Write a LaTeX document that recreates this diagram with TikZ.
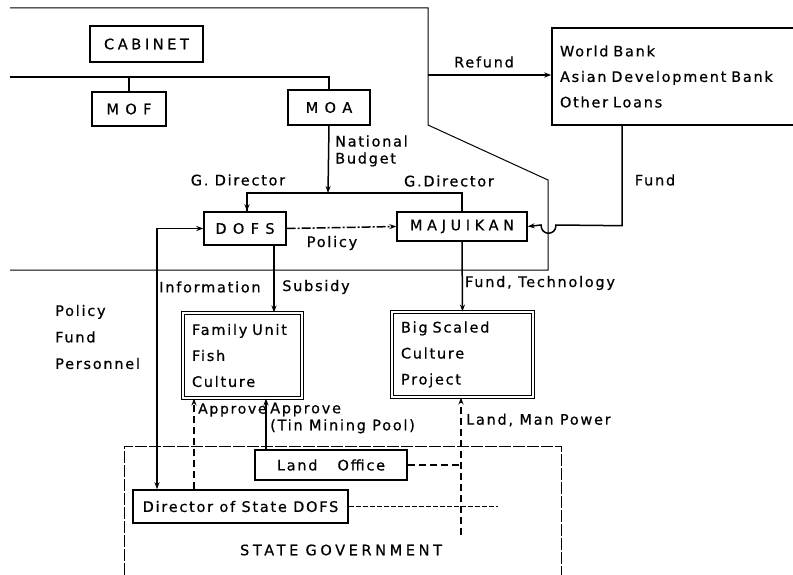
\documentclass[tikz,border=0pt]{standalone}
\usepackage{fontspec}
\setmainfont{DejaVu Sans}[LetterSpace=12,FakeBold=0.6]
\usetikzlibrary{arrows.meta,positioning}

\begin{document}
\begin{tikzpicture}[x=1pt,y=-1pt,>={Stealth[length=7pt,width=5pt]},
    font=\fontsize{14.5}{16}\selectfont,
    unit/.style={draw,line width=1.4pt,inner sep=0pt,align=center},
    project/.style={draw,double,double distance=1.6pt,line width=1pt,inner xsep=8pt,
      align=left,font=\fontsize{14.5}{26}\selectfont},
    region/.style={line width=1pt},
    link/.style={line width=1.5pt},
    dashlink/.style={link,dash pattern=on 7pt off 4pt},
    lbl/.style={inner sep=0pt,align=left},
    wide/.style={font=\fontsize{14.5}{16}\selectfont\addfontfeature{LetterSpace=25}}]
  \useasboundingbox (0,0) rectangle (793,575);
  % areas
  \draw[region] (10,8) -- (428,8) -- (428,125) -- (548,180) -- (548,270) -- (10,270);
  \draw[region,dash pattern=on 12pt off 2pt] (124,575) -- (124,446) -- (561,446) -- (561,575);
  \node[lbl,wide] (stategov) at (341,550) {STATE\enspace GOVERNMENT};

  % boxes
  \node[unit,wide,minimum width=113,minimum height=36] (cabinet) at (146.5,44) {CABINET};
  \node[unit,minimum width=74,minimum height=34] (mof) at (129,109) {M O F};
  \node[unit,minimum width=82,minimum height=35] (moa) at (329,107.5) {M O A};
  \node[unit,minimum width=248,minimum height=97,text width=232,inner xsep=8pt,align=left,
    font=\fontsize{14.5}{25.5}\selectfont] (bank) at (676,76.5)
    {World Bank\\Asian Development Bank\\Other Loans};
  \node[unit,minimum width=82,minimum height=33] (dofs) at (245,228.5) {D O F S};
  \node[unit,minimum width=130,minimum height=29,
    font=\fontsize{14.5}{16}\selectfont\addfontfeature{LetterSpace=32}] (maj) at (462,226.5) {MAJUIKAN};
  \node[project,minimum width=119,minimum height=85,text width=101] (family) at (242.5,355.5)
    {Family Unit\\Fish\\Culture};
  \node[project,minimum width=141,minimum height=85,text width=123] (big) at (462.5,354.5)
    {Big Scaled\\Culture\\Project};
  \node[unit,minimum width=152,minimum height=30] (land) at (331,465) {Land\hspace{20pt}Office};
  \node[unit,minimum width=215,minimum height=33] (director) at (240.5,506.5)
    {Director of State DOFS};

  % cabinet lines
  \draw[link] (10,77) -| (moa.north);
  \draw[link] (mof.north) -- (mof.north |- 0,77);

  % money and orders
  \draw[link,->] (428,75) -- (bank.west |- 0,75);
  \node[lbl] (refund) at (484,62) {Refund};
  \coordinate (budget) at (328,193);
  \draw[link,->] (moa.south) -- (budget);
  \node[lbl,font=\fontsize{14.5}{17}\selectfont,anchor=west] (nbudget) at (335,151) {National\\Budget};
  \draw[link] (dofs.north -| 247,0) |- (budget) -| (maj.north);
  \draw[link,->] (247,193) -- (dofs.north -| 247,0);
  \node[lbl] (gdir1) at (238,180) {G. Director};
  \node[lbl] (gdir2) at (449,181) {G.Director};
  \draw[link,->,dash pattern=on 9pt off 2pt on 2pt off 2pt] (dofs.east) -- (maj.west);
  \node[lbl] (policy) at (332,243) {Policy};
  \draw[link,->] ([xshift=-54pt]bank.south) -- ++(0,100) -- (556,225)
    .. controls (556,236) and (541,236) .. (541,225) -- (maj.east);
  \node[lbl] (fund) at (655,180) {Fund};

  % down to the units
  \draw[link,<->] (dofs.west) -| (director.north -| 157,0);
  \node[lbl] (info) at (210,287) {Information};
  \draw[link,->] ([xshift=29pt]dofs.south) -- ([xshift=29pt]dofs.south |- family.north);
  \node[lbl] (subsidy) at (316,287) {Subsidy};
  \draw[link,->] (maj.south) -- (big.north);
  \node[lbl] (fundtech) at (540,283) {Fund, Technology};
  \node[lbl,anchor=west,font=\fontsize{14.5}{26.5}\selectfont] (pfp) at (55,337)
    {Policy\\Fund\\Personnel};

  % state level
  \draw[dashlink,->] (director.north -| 194,0) -- (family.south -| 194,0);
  \node[lbl,anchor=west,font=\fontsize{14}{16}\selectfont] (approve1) at (198,410) {Approve};
  \draw[link,->] (land.north -| 266,0) -- (family.south -| 266,0);
  \node[lbl,anchor=west,font=\fontsize{14.5}{17}\selectfont] (approve2) at (270,418)
    {Approve\\(Tin Mining Pool)};
  \draw[dashlink,->] (461,535) -- (big.south -| 461,0);
  \node[lbl,anchor=west] (landman) at (466,420) {Land, Man Power};
  \draw[dashlink] (land.east) -- (461,465);
  \draw[link,dash pattern=on 5pt off 2pt] (director.east) -- (498,506.5);
\end{tikzpicture}
\end{document}
